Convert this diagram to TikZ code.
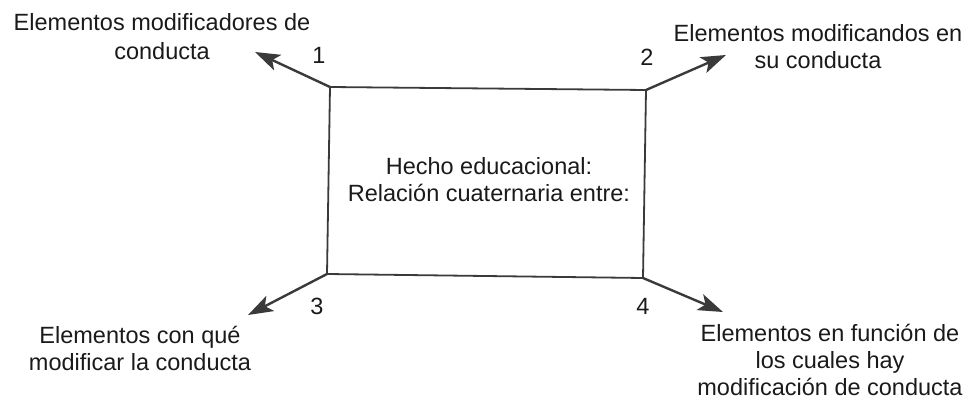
\documentclass[tikz,border=0pt]{standalone}
\usepackage{fontspec}
\setmainfont{Liberation Sans}
\usetikzlibrary{arrows.meta}
\definecolor{ink}{HTML}{1A1A1A}
\definecolor{linecol}{HTML}{3A3A3A}
\tikzset{
  lbl/.style={font=\fontsize{23.5}{27}\selectfont, text=ink, align=center, inner sep=0pt, anchor=base},
  num/.style={font=\fontsize{23.5}{27}\selectfont, text=ink, inner sep=0pt},
  boxline/.style={draw=linecol, line width=1.8pt},
  arr/.style={draw=linecol, line width=2.4pt, -{Stealth[length=25pt,width=17pt,inset=6pt]}}
}
\begin{document}
\begin{tikzpicture}[x=1pt,y=-1pt]
\useasboundingbox (0,0) rectangle (972,401);
\coordinate (c1) at (330,87);
\coordinate (c2) at (646,90);
\coordinate (c4) at (643,278);
\coordinate (c3) at (327,274);
\draw[boxline, line join=miter] (c1) -- (c2) -- (c4) -- (c3) -- cycle;
\coordinate (t1) at (255,52);
\coordinate (t2) at (726,55);
\coordinate (t3) at (248,315);
\coordinate (t4) at (723,312);
\draw[arr] (c1) -- (t1);
\draw[arr] (c2) -- (t2);
\draw[arr] (c3) -- (t3);
\draw[arr] (c4) -- (t4);
\node[num] (n1) at (319,55) {1};
\node[num] (n2) at (647,57) {2};
\node[num] (n3) at (317,306) {3};
\node[num] (n4) at (643,306) {4};
\node[lbl, font=\fontsize{23.5}{29}\selectfont] (tl) at (162,60) {Elementos modificadores de\\conducta};
\node[lbl] (tr) at (818,69) {Elementos modificandos en\\su conducta};
\node[lbl] (ctr) at (489,201) {Hecho educacional:\\Relación cuaternaria entre:};
\node[lbl] (bl) at (140,370) {Elementos con qué\\modificar la conducta};
\node[lbl] (br) at (830,395) {Elementos en función de\\los cuales hay\\modificación de conducta};
\end{tikzpicture}
\end{document}
